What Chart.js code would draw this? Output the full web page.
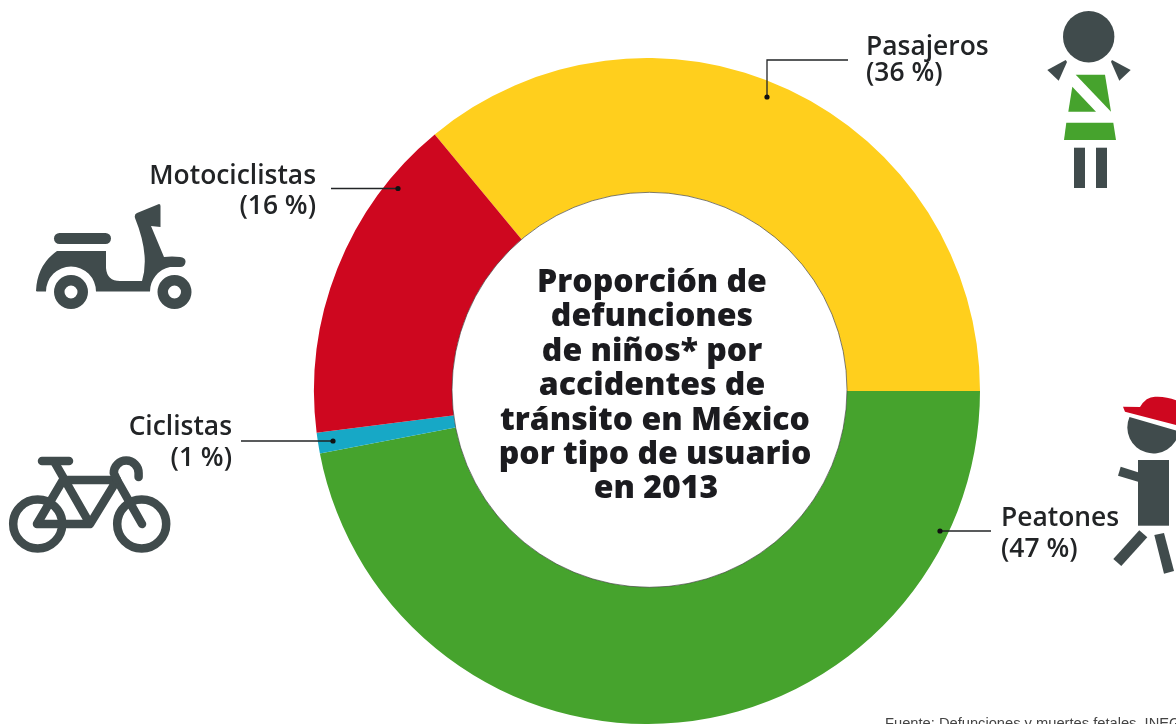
<!DOCTYPE html>
<html lang="es">
<head>
<meta charset="utf-8">
<title>Proporción de defunciones de niños por accidentes de tránsito en México</title>
<script src="https://cdn.jsdelivr.net/npm/chart.js@4/dist/chart.umd.min.js"></script>
<style>
	html, body { margin: 0; width: 1176px; height: 724px; overflow: hidden; background: #fff; }
	#stage { position: relative; width: 1176px; height: 724px; overflow: hidden; }
	#donut, #art { position: absolute; left: 0; top: 0; }
	.label { position: absolute; font: 600 26.4px/26px "Open Sans", sans-serif; color: #222426; white-space: nowrap; }
	.label.right { text-align: right; }
	.title { position: absolute; left: 455px; width: 400px; text-align: center;
		font: 800 32px/34.4px "Open Sans", sans-serif; color: #1b1b1f; white-space: nowrap; }
	#source { position: absolute; left: 885px; top: 715px; font: 14.7px/16px "Liberation Sans", sans-serif;
		color: #444; white-space: nowrap; }
</style>
</head>
<body>
<div id="stage">
	<canvas id="donut" width="1176" height="724"></canvas>
	<svg id="art" width="1176" height="724" viewBox="0 0 1176 724">
		<!-- the hole is not quite centred on the ring in the original -->
		<circle cx="649.5" cy="389.8" r="197.5" fill="#fff" stroke="#3c3c3c" stroke-opacity="0.65" stroke-width="1"/>
		<!-- leader lines -->
		<g fill="none" stroke="#222426" stroke-width="1.3">
			<path d="M767 97V60H848"/>
			<path d="M331 188.5H398"/>
			<path d="M241 441H333"/>
			<path d="M940 531H991"/>
		</g>
		<g fill="#111">
			<circle cx="767" cy="97" r="2.6"/>
			<circle cx="398" cy="188.5" r="2.6"/>
			<circle cx="333" cy="441" r="2.6"/>
			<circle cx="940" cy="531" r="2.6"/>
		</g>
		<!-- scooter -->
		<g fill="#404b4c">
			<path d="M36 291Q37 265 57 251L106 251L106 268Q107 281 120 281L142 281Q150 255 135 218Q134 214 137 213L159 204Q160.5 204 160.5 206L160.5 227L151 226L164 257Q172 256 180 257Q186 258 185.5 262Q185 267 180 267L170 267A25 25 0 0 0 150 291.5L96 291.5A25 25 0 0 0 46 291.5L37 291.5Z"/>
			<rect x="54" y="233" width="57" height="11" rx="5.5"/>
			<path fill-rule="evenodd" d="M54 292a17 17 0 1 0 34 0a17 17 0 1 0 -34 0ZM64.5 292a6.5 6.5 0 1 1 13 0a6.5 6.5 0 1 1 -13 0Z"/>
			<path fill-rule="evenodd" d="M157.5 292a17 17 0 1 0 34 0a17 17 0 1 0 -34 0ZM168 292a6.5 6.5 0 1 1 13 0a6.5 6.5 0 1 1 -13 0Z"/>
		</g>
		<!-- bicycle -->
		<g fill="none" stroke="#404b4c" stroke-width="8.5" stroke-linecap="round" stroke-linejoin="round">
			<circle cx="37.7" cy="524" r="24.5"/>
			<circle cx="141.7" cy="524" r="24.5"/>
			<path d="M42 461H69"/>
			<path d="M55 463L90 524L37 524L63 480H117L90 524"/>
			<path d="M117 480L142 524"/>
			<path d="M117 480L113.8 473A12.4 12.4 0 0 1 138.6 473L138.6 477"/>
		</g>
		<!-- passenger -->
		<g fill="#404b4c">
			<circle cx="1088.7" cy="36.7" r="25.7"/>
			<path d="M1047.3 70L1065.7 60L1067 62L1058.7 80.7Z"/>
			<path d="M1130.7 70L1112 60L1111 61.7L1119.3 80.7Z"/>
			<rect x="1074" y="147.7" width="11" height="40.3"/>
			<rect x="1096" y="147.7" width="11" height="40.3"/>
		</g>
		<g fill="#46a32d">
			<path d="M1075.7 74.7L1105 74.7L1111 111.7Z"/>
			<path d="M1072.3 86.7L1096 111.7L1068.3 111.7Z"/>
			<path d="M1066.3 122.7L1113.3 122.7L1116 140L1064 140Z"/>
		</g>
		<!-- pedestrian -->
		<g fill="#404b4c">
			<path d="M1129.5 417A26 26 0 1 0 1179 431.5Z"/>
			<rect x="1138" y="460" width="31" height="65.7"/>
			<path d="M1120.7 466.7L1138 472.3L1138 481.7L1118 475.7Z"/>
			<path d="M1139.3 530.3L1147.3 537.3L1121.3 566L1113.3 559Z"/>
			<path d="M1154.3 535L1164 533L1174 571L1164 573.7Z"/>
		</g>
		<path fill="#ce071f" d="M1123 406.7L1140 407Q1146 396.7 1155 396.7Q1168 396 1180 402L1180 426L1125 411.7Z"/>
	</svg>
	<div id="labels"></div>
	<div id="source">Fuente: Defunciones y muertes fetales, INEGI</div>
</div>

<script>
/* Data, clockwise from the yellow slice */
const categories = ['Pasajeros', 'Peatones', 'Ciclistas', 'Motociclistas'];
const shares = [36, 47, 1, 16];
const sliceColors = ['#ffcf1d', '#46a32d', '#17a8c6', '#ce071f'];
const titleLines = [
	'Proporción de',
	'defunciones',
	'de niños* por',
	'accidentes de',
	'tránsito en México',
	'por tipo de usuario',
	'en 2013'
];

/* Where each label sits: left edge, or right edge for those on the left side */
const labelSpots = [
	{left: 866, top: 32, gap: 26},
	{left: 1001, top: 501, gap: 31},
	{right: 944, top: 410, gap: 31},
	{right: 860, top: 159, gap: 30}
];
const titleShifts = [-3, -3, -3, -3, 0, 0, 1];

/**
 * Writes the category labels and the centre title as html text.
 */
function writeText() {
	const labels = document.getElementById('labels');

	categories.forEach(function(name, i) {
		const div = document.createElement('div');
		const spot = labelSpots[i];
		div.className = 'label' + (spot.right !== undefined ? ' right' : '');
		div.style.top = spot.top + 'px';
		div.style.lineHeight = spot.gap + 'px';
		if (spot.right !== undefined) div.style.right = spot.right + 'px';
		else div.style.left = spot.left + 'px';
		div.innerHTML = name + '<br>(' + shares[i] + ' %)';
		labels.appendChild(div);
	});

	titleLines.forEach(function(line, i) {
		const div = document.createElement('div');
		div.className = 'title';
		div.style.top = (263 + i * 34.4) + 'px';
		div.style.marginLeft = titleShifts[i] + 'px';
		div.textContent = line;
		labels.appendChild(div);
	});
}

/**
 * Draws the doughnut. The padding puts the ring in the same box as the
 * reference: 333 px radius around (647, 391). The cutout stays a bit small
 * because the white circle in the svg covers its inner edge.
 */
function drawDonut() {
	const ctx = document.getElementById('donut').getContext('2d');

	new Chart(ctx, {
		type: 'doughnut',
		data: {
			labels: categories,
			datasets: [{
				data: shares,
				backgroundColor: sliceColors,
				borderWidth: 0
			}]
		},
		options: {
			responsive: false,
			animation: false,
			rotation: -39.6,
			cutout: '57%',
			layout: {padding: {left: 314, right: 196, top: 58, bottom: 0}},
			plugins: {
				legend: {display: false},
				tooltip: {enabled: false}
			}
		}
	});
}

writeText();
drawDonut();
</script>
</body>
</html>
